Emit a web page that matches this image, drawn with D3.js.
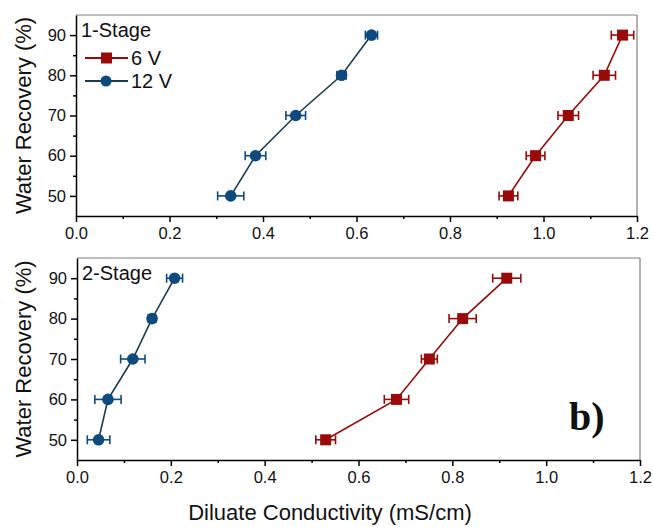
<!DOCTYPE html>
<html><head><meta charset="utf-8">
<script src="https://cdn.jsdelivr.net/npm/d3@7"></script>
<style>body{margin:0;background:#fff}svg{display:block}text{font-family:"Liberation Sans",Arial,sans-serif;fill:#111}</style>
</head><body>
<script>
const recovery = [50, 60, 70, 80, 90];
const s1_6V = [0.925, 0.983, 1.053, 1.130, 1.169];
const s1_6V_err = [0.020, 0.020, 0.022, 0.024, 0.024];
const s1_12V = [0.331, 0.384, 0.470, 0.568, 0.632];
const s1_12V_err = [0.028, 0.022, 0.021, 0.010, 0.013];
const s2_6V = [0.530, 0.681, 0.751, 0.822, 0.916];
const s2_6V_err = [0.021, 0.026, 0.017, 0.029, 0.030];
const s2_12V = [0.046, 0.066, 0.119, 0.160, 0.208];
const s2_12V_err = [0.024, 0.028, 0.026, 0.008, 0.017];
const xTicks = [0.0, 0.2, 0.4, 0.6, 0.8, 1.0, 1.2];
const yTicks = [50, 60, 70, 80, 90];
const seriesNames = ["6 V", "12 V"];
const stageNames = ["1-Stage", "2-Stage"];

const RED = "#990a0a", BLUE = "#0e4a7e", BLUE_LINE = "#1b3c4c";
const W = 653, H = 527;
const svg = d3.select("body").append("svg").attr("width", W).attr("height", H);

function panel(cfg) {
  const x = d3.scaleLinear().domain([0, 1.2]).range([cfg.x0, cfg.x1]);
  const y = d3.scaleLinear().domain([45, 95]).range([cfg.y1, cfg.y0]);
  const g = svg.append("g");
  g.append("line").attr("x1", cfg.x0).attr("x2", cfg.x1).attr("y1", cfg.y0).attr("y2", cfg.y0).attr("stroke", "#808080").attr("stroke-width", 1.2);
  g.append("line").attr("x1", cfg.x1).attr("x2", cfg.x1).attr("y1", cfg.y0).attr("y2", cfg.y1).attr("stroke", "#808080").attr("stroke-width", 1.2);
  const xa = g.append("g").attr("transform", `translate(0,${cfg.y1})`)
    .call(d3.axisBottom(x).tickValues(xTicks).tickFormat(d3.format(".1f")).tickSize(6).tickSizeOuter(0));
  const xm = g.append("g").attr("transform", `translate(0,${cfg.y1})`)
    .call(d3.axisBottom(x).tickValues(d3.range(0.1, 1.2, 0.2)).tickFormat("").tickSize(3).tickSizeOuter(0));
  xm.select(".domain").remove();
  const ya = g.append("g").attr("transform", `translate(${cfg.x0},0)`)
    .call(d3.axisLeft(y).tickValues(yTicks).tickSize(6).tickSizeOuter(0));
  const ym = g.append("g").attr("transform", `translate(${cfg.x0},0)`)
    .call(d3.axisLeft(y).tickValues([55, 65, 75, 85]).tickFormat("").tickSize(3).tickSizeOuter(0));
  ym.select(".domain").remove();
  [xa, xm, ya, ym].forEach(a => {
    a.selectAll("path,line").attr("stroke", "#000").attr("stroke-width", 1.5);
  });
  xa.selectAll("text").attr("font-size", 16.5).attr("fill", "#111").attr("dy", "1.05em").attr("y", 6)
    .style("font-family", '"Liberation Sans",Arial,sans-serif');
  ya.selectAll("text").attr("font-size", 16.5).attr("fill", "#111").attr("x", -10)
    .style("font-family", '"Liberation Sans",Arial,sans-serif');
  g.append("text").attr("transform", `translate(${cfg.ytx},${(cfg.y0 + cfg.y1) / 2}) rotate(-90)`)
    .attr("text-anchor", "middle").attr("font-size", 22).text("Water Recovery (%)");
  g.append("text").attr("x", cfg.x0 + 5).attr("y", cfg.y0 + 22).attr("font-size", 20).text(cfg.stage);

  const series = [
    { v: cfg.red, e: cfg.redErr, color: RED, line: RED, shape: "square" },
    { v: cfg.blue, e: cfg.blueErr, color: BLUE, line: BLUE_LINE, shape: "circle" }
  ];
  series.forEach(s => {
    const pts = recovery.map((r, i) => ({ r, v: s.v[i], e: s.e[i] }));
    g.append("path").datum(pts).attr("fill", "none").attr("stroke", s.line).attr("stroke-width", 1.6)
      .attr("d", d3.line().x(d => x(d.v)).y(d => y(d.r)));
    const eb = g.append("g").attr("stroke", s.color).attr("stroke-width", 1.6);
    pts.forEach(d => {
      const cy = y(d.r), xl = x(d.v - d.e), xr = x(d.v + d.e);
      eb.append("line").attr("x1", xl).attr("x2", xr).attr("y1", cy).attr("y2", cy);
      eb.append("line").attr("x1", xl).attr("x2", xl).attr("y1", cy - 4.5).attr("y2", cy + 4.5);
      eb.append("line").attr("x1", xr).attr("x2", xr).attr("y1", cy - 4.5).attr("y2", cy + 4.5);
    });
    pts.forEach(d => {
      if (s.shape === "square") {
        g.append("rect").attr("x", x(d.v) - 5.5).attr("y", y(d.r) - 5.5).attr("width", 11).attr("height", 11).attr("fill", s.color);
      } else {
        g.append("circle").attr("cx", x(d.v)).attr("cy", y(d.r)).attr("r", 5.8).attr("fill", s.color);
      }
    });
  });
  return { x, y, g };
}

panel({ x0: 76, x1: 637, y0: 15, y1: 216, ytx: 31, stage: stageNames[0],
  red: s1_6V, redErr: s1_6V_err, blue: s1_12V, blueErr: s1_12V_err });
panel({ x0: 77, x1: 640, y0: 258, y1: 460, ytx: 31, stage: stageNames[1],
  red: s2_6V, redErr: s2_6V_err, blue: s2_12V, blueErr: s2_12V_err });

const lg = svg.append("g");
[[RED, RED, "square", 58], [BLUE, BLUE_LINE, "circle", 81]].forEach((d, i) => {
  const [c, lc, shape, ly] = d;
  lg.append("line").attr("x1", 85).attr("x2", 128).attr("y1", ly).attr("y2", ly).attr("stroke", lc).attr("stroke-width", 1.8);
  if (shape === "square") lg.append("rect").attr("x", 101).attr("y", ly - 5.5).attr("width", 11).attr("height", 11).attr("fill", c);
  else lg.append("circle").attr("cx", 106).attr("cy", ly).attr("r", 5.5).attr("fill", c);
  lg.append("text").attr("x", 131).attr("y", ly + 7).attr("font-size", 20).text(seriesNames[i]);
});

svg.append("text").attr("x", 330).attr("y", 520).attr("text-anchor", "middle").attr("font-size", 22)
  .text("Diluate Conductivity (mS/cm)");
svg.append("text").attr("x", 569).attr("y", 430).attr("font-size", 40).attr("font-weight", "bold")
  .style("font-family", '"Liberation Serif","Times New Roman",serif').attr("fill", "#000").text("b)");
</script>
</body></html>
